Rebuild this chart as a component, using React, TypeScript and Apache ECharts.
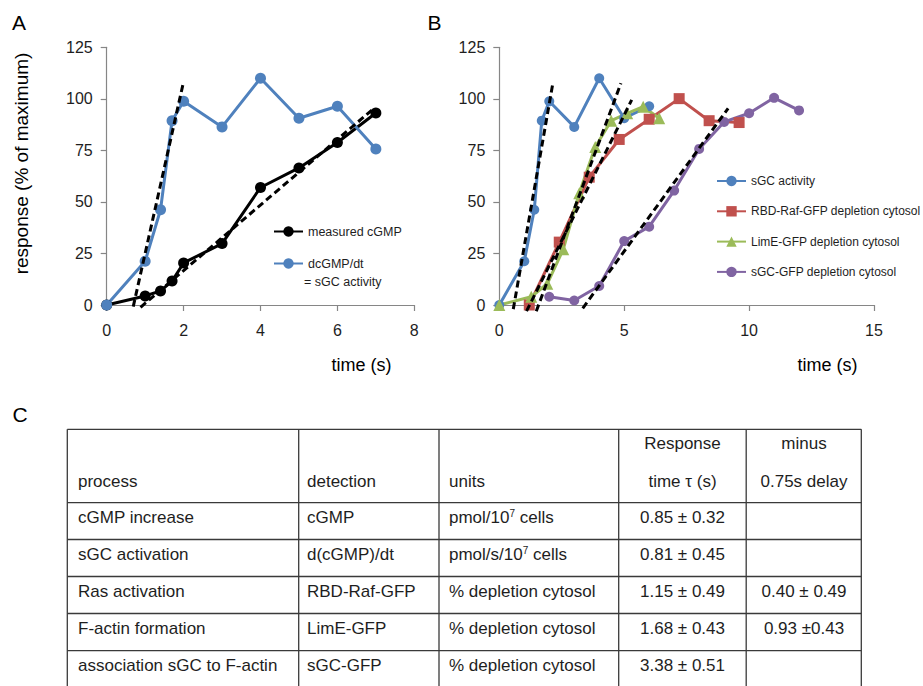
import React, { useEffect, useRef } from "react";
import * as echarts from "echarts";

// ---------- Panel A data ----------
const timeA = [0, 1, 1.4, 1.7, 2, 3, 4, 5, 6, 7];
const measuredCGMP = [0, 4.4, 6.8, 11.6, 20.4, 29.8, 57, 66.5, 78.8, 93.1];
const sgcActivityA = [0, 21.2, 46.2, 89.4, 98.8, 86.4, 110, 90.6, 96.4, 75.7];
const fitA1 = [[0.69, -0.8], [1.98, 106.7]];
const fitA2 = [[0.88, -1.1], [6.95, 95.4]];

// ---------- Panel B data ----------
const timeSgcB = [0, 1, 1.4, 1.7, 2, 3, 4, 5, 6];
const sgcActivityB = [0, 21.2, 46.2, 89.4, 98.8, 86.4, 110, 90.6, 96.4];
const timeRbd = [1.2, 2.4, 3.6, 4.8, 6, 7.2, 8.4, 9.6];
const rbdDepletion = [0, 30.5, 62, 80.3, 90.1, 100.1, 89.4, 88.5];
const timeLimE = [0, 1.28, 1.92, 2.56, 3.2, 3.84, 4.48, 5.12, 5.76, 6.4];
const limeDepletion = [0, 4, 10.3, 27, 54.2, 76.6, 89.4, 93, 96.2, 90.6];
const timeSgcGfp = [2, 3, 4, 5, 6, 7, 8, 9, 10, 11, 12];
const sgcGfpDepletion = [4, 2.2, 9.2, 31, 38, 55.5, 75.7, 88.8, 93, 100.5, 94.4];
const fitB1 = [[0.56, -2], [2.15, 108]];
const fitB2 = [[1.48, -3], [4.87, 107.6]];
const fitB3 = [[1.09, -3], [5.3, 99.5]];
const fitB4 = [[3.34, -1.6], [9.16, 95.4]];

// ---------- Table (panel C) ----------
const headerLine1 = ["", "", "", "Response", "minus"];
const headerLine2 = ["process", "detection", "units", "time τ (s)", "0.75s delay"];
const processCol = ["cGMP increase", "sGC activation", "Ras activation", "F-actin formation", "association sGC to F-actin"];
const detectionCol = ["cGMP", "d(cGMP)/dt", "RBD-Raf-GFP", "LimE-GFP", "sGC-GFP"];
const unitsCol = ["pmol/10{sup|7} cells", "pmol/s/10{sup|7} cells", "% depletion cytosol", "% depletion cytosol", "% depletion cytosol"];
const responseCol = ["0.85 ± 0.32", "0.81 ± 0.45", "1.15 ± 0.49", "1.68 ± 0.43", "3.38 ± 0.51"];
const minusCol = ["", "", "0.40 ± 0.49", "0.93 ±0.43", ""];

const FONT = "'Liberation Sans', Arial, sans-serif";
const BLUE = "#4F81BD";
const RED = "#C0504D";
const GREEN = "#9BBB59";
const PURPLE = "#8064A2";
const AXIS = "#868686";
const TXT = "#1e1e1e";

const zip = (xs: number[], ys: number[]) => xs.map((x, i) => [x, ys[i]]);

function buildOption() {
  const axisCommon = {
    type: "value" as const,
    axisLine: { show: true, onZero: true, lineStyle: { color: AXIS, width: 1.2 } },
    axisTick: { show: true, length: 6, lineStyle: { color: AXIS, width: 1.2 } },
    splitLine: { show: false },
  };
  const xLabel = { fontSize: 16, color: TXT, fontFamily: FONT, margin: 17 };
  const yLabel = { fontSize: 16, color: TXT, fontFamily: FONT, margin: 14 };

  const fit = (name: string, data: number[][], xi: number) => ({
    type: "line",
    name,
    xAxisIndex: xi,
    yAxisIndex: xi,
    data,
    symbol: "none",
    clip: false,
    z: 10,
    silent: true,
    lineStyle: { color: "#000", width: 3, type: [7, 4] },
  });

  const lineSeries = (
    name: string,
    data: number[][],
    xi: number,
    color: string,
    symbol: string,
    size: number
  ) => ({
    type: "line",
    name,
    xAxisIndex: xi,
    yAxisIndex: xi,
    data,
    symbol,
    symbolSize: size,
    showSymbol: true,
    clip: false,
    lineStyle: { color, width: 3 },
    itemStyle: { color, borderWidth: 0 },
  });

  // table graphics
  const tableLeft = 67.3;
  const tableRight = 861.3;
  const tableTop = 429.3;
  const hLines = [429.3, 502.7, 539.5, 576.5, 613.5, 650.7, 687.5];
  const vLines = [67.3, 298.7, 439, 618.7, 746.2, 861.3];
  const textLeftX = [78, 307, 449];
  const textCenterX = [682.5, 804];
  const rowY = [517.3, 554.3, 591.3, 628.3, 665.3];
  const tableFont = 17;

  const graphics: any[] = [];
  hLines.forEach((y) =>
    graphics.push({
      type: "line",
      shape: { x1: tableLeft, y1: y, x2: tableRight, y2: y },
      style: { stroke: "#3a3a3a", lineWidth: 1.3 },
    })
  );
  vLines.forEach((x) =>
    graphics.push({
      type: "line",
      shape: { x1: x, y1: tableTop, x2: x, y2: 690 },
      style: { stroke: "#3a3a3a", lineWidth: 1.3 },
    })
  );
  const addText = (
    text: string,
    x: number,
    y: number,
    align: string,
    size = tableFont
  ) => {
    if (!text) return;
    graphics.push({
      type: "text",
      x,
      y,
      style: {
        text,
        fontSize: size,
        fontFamily: FONT,
        fill: TXT,
        align,
        verticalAlign: "middle",
        rich: {
          sup: { fontSize: 10, fontFamily: FONT, fill: TXT, verticalAlign: "top" },
        },
      },
    });
  };
  // headers
  headerLine1.forEach((t, i) => {
    if (i >= 3) addText(t, textCenterX[i - 3], 443.3, "center");
  });
  headerLine2.forEach((t, i) => {
    if (i < 3) addText(t, textLeftX[i], 481.5, "left");
    else addText(t, textCenterX[i - 3], 481.5, "center");
  });
  rowY.forEach((y, r) => {
    addText(processCol[r], textLeftX[0], y, "left");
    addText(detectionCol[r], textLeftX[1], y, "left");
    addText(unitsCol[r], textLeftX[2], y, "left");
    addText(responseCol[r], textCenterX[0], y, "center");
    addText(minusCol[r], textCenterX[1], y, "center");
  });

  // panel letters and axis titles
  const label = (text: string, x: number, y: number, size: number, align = "center", rotation = 0) => ({
    type: "text",
    x,
    y,
    rotation,
    style: { text, fontSize: size, fontFamily: FONT, fill: "#000", align, verticalAlign: "middle" },
  });
  graphics.push(label("A", 19, 22, 21));
  graphics.push(label("B", 434.5, 22, 21));
  graphics.push(label("C", 20, 414, 21));
  graphics.push(label("response (% of maximum)", 21, 163.5, 19, "center", Math.PI / 2));
  graphics.push(label("time (s)", 361.5, 364.5, 18));
  graphics.push(label("time (s)", 827.5, 364.5, 18));
  graphics.push({
    type: "text",
    x: 304,
    y: 281.7,
    style: { text: "= sGC activity", fontSize: 12.5, fontFamily: FONT, fill: TXT, align: "left", verticalAlign: "middle" },
  });

  return {
    animation: false,
    backgroundColor: "#fff",
    grid: [
      { left: 106.7, top: 47.3, width: 307.6, height: 257.7 },
      { left: 499.3, top: 47.3, width: 374.7, height: 257.7 },
    ],
    xAxis: [
      { ...axisCommon, gridIndex: 0, min: 0, max: 8, interval: 2, axisLabel: xLabel },
      { ...axisCommon, gridIndex: 1, min: 0, max: 15, interval: 5, axisLabel: xLabel },
    ],
    yAxis: [
      { ...axisCommon, gridIndex: 0, min: 0, max: 125, interval: 25, axisLabel: yLabel },
      { ...axisCommon, gridIndex: 1, min: 0, max: 125, interval: 25, axisLabel: yLabel },
    ],
    legend: [
      {
        data: ["measured cGMP", "dcGMP/dt"],
        orient: "vertical",
        left: 273,
        top: 225,
        itemWidth: 29,
        itemHeight: 13,
        itemGap: 19,
        padding: 0,
        selectedMode: false,
        textStyle: { fontSize: 12.5, fontFamily: FONT, color: TXT },
      },
      {
        data: ["sGC activity", "RBD-Raf-GFP depletion cytosol", "LimE-GFP depletion cytosol", "sGC-GFP depletion cytosol"],
        orient: "vertical",
        left: 716,
        top: 175,
        itemWidth: 29,
        itemHeight: 13,
        itemGap: 18.3,
        padding: 0,
        selectedMode: false,
        textStyle: { fontSize: 12, fontFamily: FONT, color: TXT },
      },
    ],
    series: [
      lineSeries("measured cGMP", zip(timeA, measuredCGMP), 0, "#000", "circle", 11),
      lineSeries("dcGMP/dt", zip(timeA, sgcActivityA), 0, BLUE, "circle", 11),
      fit("fitA1", fitA1, 0),
      fit("fitA2", fitA2, 0),
      lineSeries("sGC activity", zip(timeSgcB, sgcActivityB), 1, BLUE, "circle", 10),
      lineSeries("RBD-Raf-GFP depletion cytosol", zip(timeRbd, rbdDepletion), 1, RED, "rect", 11),
      lineSeries("LimE-GFP depletion cytosol", zip(timeLimE, limeDepletion), 1, GREEN, "triangle", 12),
      lineSeries("sGC-GFP depletion cytosol", zip(timeSgcGfp, sgcGfpDepletion), 1, PURPLE, "circle", 10),
      fit("fitB1", fitB1, 1),
      fit("fitB2", fitB2, 1),
      fit("fitB3", fitB3, 1),
      fit("fitB4", fitB4, 1),
    ],
    graphic: graphics,
  };
}

export default function App() {
  const ref = useRef<HTMLDivElement>(null);
  useEffect(() => {
    if (!ref.current) return;
    const chart = echarts.init(ref.current, null, { renderer: "svg", width: 923, height: 686 });
    chart.setOption(buildOption() as any);
    return () => chart.dispose();
  }, []);
  return (
    <div
      ref={ref}
      style={{ position: "absolute", left: 0, top: 0, width: 923, height: 686, background: "#fff" }}
    />
  );
}
